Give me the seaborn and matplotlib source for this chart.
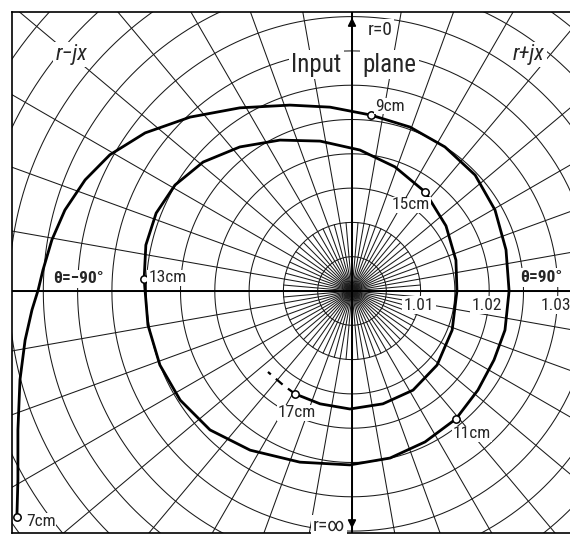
import numpy as np
import pandas as pd
import matplotlib
matplotlib.use("Agg")
import matplotlib.pyplot as plt
from matplotlib import font_manager
import seaborn as sns

# Spiral locus in grid units (one unit = one ring spacing, chart centre at 0,0)
spiral_u = [-9.77, -9.74, -9.74, -9.68, -9.53, -9.33, -9.15, -9.01, -8.75, -8.37,
            -7.78, -7.06, -6.03, -4.72, -3.27, -1.81, -0.64, 0.55, 1.69, 2.71,
            3.59, 4.17, 4.49, 4.58, 4.46, 4.14, 3.67, 3.03, 2.13, 1.11,
            -0.06, -1.52, -2.97, -4.14, -5.01, -5.60, -5.95, -6.06,
            -6.01, -5.71, -5.16, -4.34, -3.27, -2.10, -0.93, 0.23, 1.25, 2.13,
            2.74, 3.03, 3.06, 2.92, 2.48, 1.78, 0.90, -0.06, -0.93, -1.66]
spiral_v = [-6.59, -5.51, -4.05, -2.59, -1.43, -0.55, 0.03, 0.61, 1.49, 2.36,
            3.24, 3.97, 4.61, 5.07, 5.34, 5.42, 5.36, 5.13, 4.78, 4.20,
            3.38, 2.36, 1.20, 0.00, -1.14, -2.01, -2.89, -3.73, -4.40, -4.87,
            -5.07, -4.99, -4.64, -4.05, -3.18, -2.16, -0.99, 0.35,
            1.34, 2.27, 3.09, 3.76, 4.20, 4.40, 4.37, 4.11, 3.62, 2.89,
            1.90, 0.90, 0.00, -1.14, -2.16, -2.89, -3.29, -3.44, -3.29, -3.00]

# Dashed continuation beyond the last marked length
tail_u = [-1.66, -2.01, -2.45]
tail_v = [-3.00, -2.74, -2.36]

# Marked line lengths
marker_labels = ["7cm", "9cm", "11cm", "13cm", "15cm", "17cm"]
marker_u = [-9.77, 0.55, 3.03, -6.06, 2.13, -1.66]
marker_v = [-6.59, 5.13, -3.73, 0.35, 2.89, -3.00]

# Ring scale
ring_count = 13
ring_labels = ["1.01", "1.02", "1.03"]
ring_label_index = [2, 4, 6]
spoke_step = 10      # degrees between full-length spokes
fine_spoke_step = 5  # degrees between short spokes near the centre
fine_spoke_reach = 2

sns.set_style("white")


def pick_font(names):
    have = {f.name for f in font_manager.fontManager.ttflist}
    for n in names:
        if n in have:
            return n
    return "DejaVu Sans"


narrow = pick_font(["Liberation Sans Narrow", "DejaVu Sans Condensed", "Roboto Condensed", "DejaVu Sans"])
plt.rcParams["font.family"] = [narrow, "DejaVu Sans"]

W, H = 570, 535
fig = plt.figure(figsize=(W / 100, H / 100), dpi=100)
left_px, right_px, top_px, bottom_px = 12, 570, 12, 533
ax = fig.add_axes([left_px / W, (H - bottom_px) / H,
                   (right_px - left_px) / W, (bottom_px - top_px) / H])
cx, cy, unit = 352, 291, 34.3
ax.set_xlim((left_px - cx) / unit, (right_px - cx) / unit)
ax.set_ylim((cy - bottom_px) / unit, (cy - top_px) / unit)

grid_kw = dict(color="#1a1a1a", lw=0.75, zorder=1)

# Concentric rings
t = np.linspace(0, 2 * np.pi, 721)
for k in range(1, ring_count + 1):
    ax.plot(k * np.cos(t), k * np.sin(t), **grid_kw)

# Spokes
for a in np.arange(0, 360, fine_spoke_step):
    reach = ring_count + 1 if a % spoke_step == 0 else fine_spoke_reach
    r = np.deg2rad(a)
    ax.plot([0, reach * np.cos(r)], [0, reach * np.sin(r)], **grid_kw)

# Main axes
ax.axhline(0, color="black", lw=1.4, zorder=2)
ax.plot([0, 0], [-8, 9], color="black", lw=1.4, zorder=2)
ylo, yhi = ax.get_ylim()
ax.annotate("", xy=(0, yhi - 0.08), xytext=(0, yhi - 1.0),
            arrowprops=dict(arrowstyle="-|>", color="black", lw=1.2,
                            mutation_scale=12), zorder=3)
ax.annotate("", xy=(0, ylo + 0.05), xytext=(0, ylo + 1.0),
            arrowprops=dict(arrowstyle="-|>", color="black", lw=1.2,
                            mutation_scale=12), zorder=3)

# Spiral locus
df = pd.DataFrame({"u": spiral_u, "v": spiral_v})
sns.lineplot(data=df, x="u", y="v", sort=False, estimator=None,
             color="black", lw=2.0, ax=ax, zorder=4)
ax.plot(tail_u, tail_v, color="black", lw=1.6, ls=(0, (4, 3)), zorder=4)

mk = pd.DataFrame({"u": marker_u, "v": marker_v, "label": marker_labels})
sns.scatterplot(data=mk, x="u", y="v", s=28, color="white",
                edgecolor="black", linewidth=1.1, ax=ax, zorder=5, legend=False)

label_offsets = {"7cm": (9, -4, "left"), "9cm": (4, 9, "left"),
                 "11cm": (-3, -15, "left"), "13cm": (4, 1, "left"),
                 "15cm": (-33, -13, "left"), "17cm": (-17, -19, "left")}
for lab, u, v in zip(marker_labels, marker_u, marker_v):
    dx, dy, ha = label_offsets[lab]
    ax.annotate(lab, (u, v), xytext=(dx, dy), textcoords="offset pixels",
                ha=ha, va="center", fontsize=12.5, zorder=6,
                bbox=dict(boxstyle="square,pad=0.05", fc="white", ec="none"))

for lab, k in zip(ring_labels, ring_label_index):
    ax.annotate(lab, (k, 0), xytext=(-2, -14), textcoords="offset pixels",
                ha="center", va="center", fontsize=12.5, zorder=6,
                bbox=dict(boxstyle="square,pad=0.1", fc="white", ec="none"))

txt_bbox = dict(boxstyle="square,pad=0.1", fc="white", ec="none")
ax.text(-0.3, 6.6, "Input", ha="right", va="center", fontsize=18, zorder=6, bbox=txt_bbox)
ax.text(0.3, 6.6, "plane", ha="left", va="center", fontsize=18, zorder=6, bbox=txt_bbox)
ax.text(0.45, 7.6, "r=0", ha="left", va="center", fontsize=14, zorder=6, bbox=txt_bbox)
ax.text(-0.2, -6.85, "r=∞", ha="right", va="center", fontsize=14, zorder=6, bbox=txt_bbox)
ax.text(-8.65, 6.9, "r−jx", ha="left", va="center", fontsize=16, style="italic", zorder=6, bbox=txt_bbox)
ax.text(4.7, 6.9, "r+jx", ha="left", va="center", fontsize=16, style="italic", zorder=6, bbox=txt_bbox)
ax.text(-8.7, 0.35, "θ=−90°", ha="left", va="center", fontsize=12.5, fontweight="bold",
        zorder=6, bbox=txt_bbox)
ax.text(4.9, 0.4, "θ=90°", ha="left", va="center", fontsize=12.5, fontweight="bold",
        zorder=6, bbox=txt_bbox)

ax.set_xlabel("")
ax.set_ylabel("")
ax.set_xticks([])
ax.set_yticks([])
for side in ("left", "top", "bottom"):
    ax.spines[side].set_visible(True)
    ax.spines[side].set_color("black")
    ax.spines[side].set_linewidth(1.2)
ax.spines["right"].set_visible(False)

fig.savefig("out.png", dpi=100, facecolor="white")
